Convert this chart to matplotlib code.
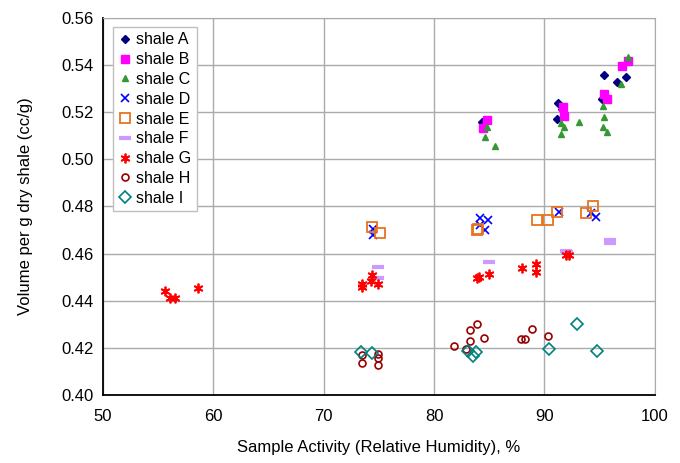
import matplotlib
matplotlib.use("Agg")
import matplotlib.pyplot as plt

plt.rcParams['font.family'] = ['Liberation Sans', 'DejaVu Sans']

a_x = [84.3, 91.2, 91.55, 91.15, 95.4, 96.6, 97.35, 95.25]
a_y = [0.5157, 0.524, 0.5212, 0.5171, 0.5358, 0.5327, 0.5351, 0.5257]

b_x = [84.75, 84.4, 91.65, 91.75, 95.4, 95.7, 97.0, 97.6]
b_y = [0.5167, 0.5134, 0.5222, 0.5185, 0.5279, 0.5257, 0.5397, 0.5419]

c_x = [84.75, 84.6, 85.5, 91.5, 91.75, 91.5, 93.1, 95.3, 95.4, 95.3, 95.65, 96.95, 97.6]
c_y = [0.5136, 0.5096, 0.5058, 0.5155, 0.5136, 0.5107, 0.516, 0.5226, 0.518, 0.5138, 0.5116, 0.5321, 0.5436]

d_x = [74.5, 74.5, 84.15, 84.9, 84.15, 84.6, 91.35, 94.25, 94.7]
d_y = [0.4705, 0.4678, 0.4752, 0.4742, 0.4721, 0.4699, 0.4777, 0.4771, 0.4755]

e_x = [74.35, 75.1, 83.85, 84.0, 89.35, 90.35, 91.1, 93.8, 94.4]
e_y = [0.4715, 0.4686, 0.4699, 0.4705, 0.4742, 0.4742, 0.4777, 0.4771, 0.4803]

f_x = [74.9, 74.9, 84.95, 91.95, 92.0, 95.95, 95.95]
f_y = [0.4543, 0.4497, 0.4566, 0.4612, 0.4606, 0.4658, 0.4646]

g_x = [55.65, 56.1, 56.5, 58.6, 73.5, 73.5, 74.25, 74.4, 74.9, 83.85, 84.05, 84.95,
       87.95, 89.2, 89.2, 91.95, 92.2]
g_y = [0.4442, 0.441, 0.441, 0.4455, 0.4473, 0.4459, 0.4484, 0.4509, 0.4469, 0.4495, 0.4501, 0.4513,
       0.4541, 0.4555, 0.4523, 0.4594, 0.4592]

h_x = [73.45, 73.5, 74.95, 74.95, 74.95, 81.8, 82.9, 83.25, 83.25, 83.9, 84.55, 87.85, 88.25, 88.85, 90.35]
h_y = [0.4168, 0.4135, 0.4175, 0.4155, 0.4129, 0.4208, 0.4194, 0.4228, 0.4275, 0.4300, 0.4243, 0.4237, 0.4237, 0.4281, 0.4250]

i_x = [73.4, 74.4, 83.05, 83.5, 83.8, 90.4, 92.95, 94.8]
i_y = [0.4183, 0.4178, 0.4185, 0.4166, 0.4182, 0.4194, 0.4301, 0.4185]

labels = ["shale A", "shale B", "shale C", "shale D", "shale E",
          "shale F", "shale G", "shale H", "shale I"]

x_ticks = [50, 60, 70, 80, 90, 100]
y_ticks = [0.40, 0.42, 0.44, 0.46, 0.48, 0.50, 0.52, 0.54, 0.56]

fig = plt.figure(figsize=(6.8, 4.63), dpi=100)
ax = fig.add_axes([0.1515, 0.147, 0.8115, 0.814])

star = (6, 2, 0)
series = [
    (a_x, a_y, dict(marker='D', color='#000080', markersize=4, mec='#000080')),
    (b_x, b_y, dict(marker='s', color='#FF00FF', markersize=5.5, mec='#FF00FF')),
    (c_x, c_y, dict(marker='^', color='#339933', markersize=5, mec='#339933')),
    (d_x, d_y, dict(marker='x', color='#0000FF', markersize=6, mew=1.2)),
    (e_x, e_y, dict(marker='s', color='none', mec='#E8731E', markersize=7, mew=1.3)),
    (f_x, f_y, dict(marker='_', color='#CC99FF', markersize=8, mew=3)),
    (g_x, g_y, dict(marker=star, color='#FF0000', markersize=7, mew=1.3)),
    (h_x, h_y, dict(marker='o', color='none', mec='#990000', markersize=5, mew=1.2)),
    (i_x, i_y, dict(marker='D', color='none', mec='#008080', markersize=6, mew=1.2)),
]
for (xs, ys, st), lab in zip(series, labels):
    ax.plot(xs, ys, linestyle='none', label=lab, **st)

ax.set_xlim(50, 100)
ax.set_ylim(0.40, 0.56)
ax.set_xticks(x_ticks)
ax.set_yticks(y_ticks)
ax.set_xticklabels([str(v) for v in x_ticks])
ax.set_yticklabels([f"{v:.2f}" for v in y_ticks])
ax.grid(True, color='#ABABAB', linewidth=1)
ax.set_axisbelow(True)
ax.tick_params(labelsize=12, length=0)
ax.tick_params(axis='x', pad=10)
ax.tick_params(axis='y', pad=7)
for s in ['top', 'right']:
    ax.spines[s].set_color('#ABABAB')
for s in ['left', 'bottom']:
    ax.spines[s].set_color('black')
    ax.spines[s].set_linewidth(1.3)

ax.set_xlabel("Sample Activity (Relative Humidity), %", fontsize=12, labelpad=12)
ax.set_ylabel("Volume per g dry shale (cc/g)", fontsize=12, labelpad=20)

leg = ax.legend(loc='upper left', bbox_to_anchor=(0.012, 0.985), fontsize=11.5,
                frameon=True, fancybox=False, edgecolor='#C0C0C0', framealpha=1,
                handlelength=0.8, handletextpad=0.3, borderpad=0.35, labelspacing=0.3,
                borderaxespad=0.2)
leg.get_frame().set_linewidth(1)

fig.savefig("out.png", dpi=100)
